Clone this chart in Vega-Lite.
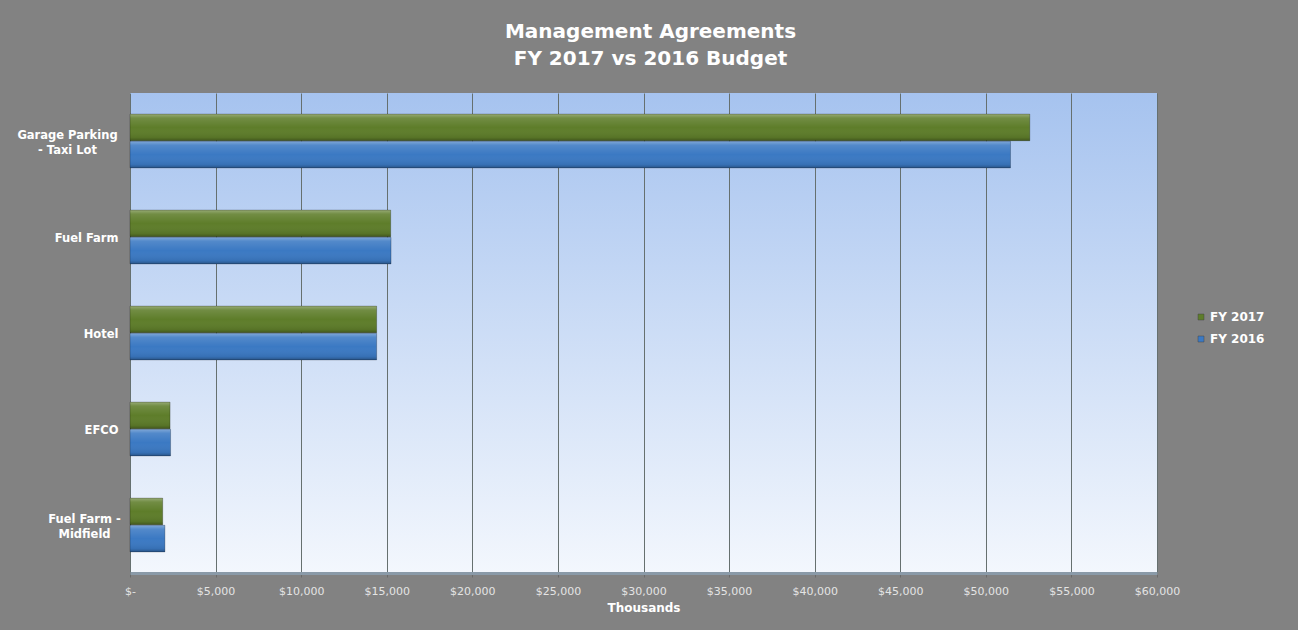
{
  "$schema": "https://vega.github.io/schema/vega-lite/v6.json",
  "width": 1027,
  "height": 480,
  "autosize": {"type": "none"},
  "padding": {"left": 130, "top": 93, "right": 141, "bottom": 57},
  "background": "#828282",
  "title": {
    "text": ["Management Agreements", "FY 2017 vs 2016 Budget"],
    "color": "#ffffff",
    "font": "DejaVu Sans",
    "fontSize": 20,
    "fontWeight": "bold",
    "lineHeight": 27,
    "offset": 24,
    "dx": 7,
    "anchor": "middle"
  },
  "data": {
    "values": [
      {"category": "Garage Parking - Taxi Lot", "series": "FY 2017", "value": 52570},
      {"category": "Garage Parking - Taxi Lot", "series": "FY 2016", "value": 51440},
      {"category": "Fuel Farm", "series": "FY 2017", "value": 15230},
      {"category": "Fuel Farm", "series": "FY 2016", "value": 15250},
      {"category": "Hotel", "series": "FY 2017", "value": 14410},
      {"category": "Hotel", "series": "FY 2016", "value": 14410},
      {"category": "EFCO", "series": "FY 2017", "value": 2340},
      {"category": "EFCO", "series": "FY 2016", "value": 2370},
      {"category": "Fuel Farm - Midfield", "series": "FY 2017", "value": 1910},
      {"category": "Fuel Farm - Midfield", "series": "FY 2016", "value": 2040}
    ]
  },
  "encoding": {
    "y": {
      "field": "category",
      "type": "nominal",
      "sort": ["Garage Parking - Taxi Lot", "Fuel Farm", "Hotel", "EFCO", "Fuel Farm - Midfield"],
      "scale": {"paddingInner": 0.44, "paddingOuter": 0.22},
      "axis": {
        "title": null,
        "domain": false,
        "ticks": false,
        "labelPadding": {"condition": [
          {"test": "datum.value == 'Garage Parking - Taxi Lot'", "value": 63},
          {"test": "datum.value == 'Fuel Farm - Midfield'", "value": 46}
        ], "value": 12},
        "labelAlign": {"condition": {"test": "indexof(['Garage Parking - Taxi Lot', 'Fuel Farm - Midfield'], datum.value) >= 0", "value": "center"}, "value": "right"},
        "labelOffset": {"condition": {"test": "indexof(['Garage Parking - Taxi Lot', 'Fuel Farm - Midfield'], datum.value) >= 0", "value": -5}, "value": 2},
        "labelColor": "#ffffff",
        "labelFont": "DejaVu Sans",
        "labelFontSize": 11.5,
        "labelFontWeight": "bold",
        "labelLineHeight": 15,
        "labelExpr": "datum.value == 'Garage Parking - Taxi Lot' ? ['Garage Parking', '- Taxi Lot'] : datum.value == 'Fuel Farm - Midfield' ? ['Fuel Farm -', 'Midfield'] : datum.value"
      }
    },
    "yOffset": {
      "field": "series",
      "type": "nominal",
      "sort": ["FY 2017", "FY 2016"],
      "scale": {"paddingInner": 0.02}
    },
    "x": {
      "field": "value",
      "type": "quantitative",
      "scale": {"domain": [0, 60000], "nice": false},
      "axis": {
        "title": "Thousands",
        "titleColor": "#ffffff",
        "titleFont": "DejaVu Sans",
        "titleFontSize": 12,
        "titleFontWeight": "bold",
        "titlePadding": 6,
        "values": [0, 5000, 10000, 15000, 20000, 25000, 30000, 35000, 40000, 45000, 50000, 55000, 60000],
        "labelExpr": "datum.value == 0 ? '$-' : '$' + format(datum.value, ',')",
        "labelFlush": false,
        "labelColor": "#e4e4e4",
        "labelFont": "DejaVu Sans",
        "labelFontSize": 11,
        "labelPadding": 8,
        "grid": true,
        "gridColor": "#66706f",
        "gridWidth": 1,
        "domain": true,
        "domainColor": "#8a9aa8",
        "domainWidth": 3,
        "tickColor": "#6a6a6a",
        "tickSize": 4
      }
    }
  },
  "layer": [
    {
      "mark": {"type": "bar"},
      "encoding": {
        "color": {
          "field": "series",
          "type": "nominal",
          "sort": ["FY 2017", "FY 2016"],
          "scale": {"domain": ["FY 2017", "FY 2016"], "range": ["#5e7d2a", "#3b79c3"]},
          "legend": {
            "title": null,
            "orient": "none",
            "legendX": 1065,
            "legendY": 218,
            "symbolType": "square",
            "symbolSize": 36,
            "symbolStrokeColor": "#444444",
            "symbolStrokeWidth": 0.5,
            "labelColor": "#ffffff",
            "labelFont": "DejaVu Sans",
            "labelFontSize": 12,
            "labelFontWeight": "bold",
            "labelOffset": 3,
            "rowPadding": 10
          }
        }
      }
    },
    {
      "mark": {
        "type": "bar",
        "stroke": "rgba(0,0,0,0.35)",
        "strokeWidth": 0.7,
        "fill": {
          "gradient": "linear",
          "x1": 0, "y1": 0, "x2": 0, "y2": 1,
          "stops": [
            {"offset": 0, "color": "rgba(255,255,255,0.35)"},
            {"offset": 0.15, "color": "rgba(255,255,255,0.12)"},
            {"offset": 0.5, "color": "rgba(255,255,255,0)"},
            {"offset": 0.88, "color": "rgba(0,0,0,0.08)"},
            {"offset": 1, "color": "rgba(0,0,0,0.3)"}
          ]
        }
      },
      "encoding": {}
    }
  ],
  "config": {
    "view": {
      "stroke": null,
      "fill": {
        "gradient": "linear",
        "x1": 0, "y1": 0, "x2": 0, "y2": 1,
        "stops": [
          {"offset": 0, "color": "#a6c3ef"},
          {"offset": 1, "color": "#f3f7fd"}
        ]
      }
    }
  }
}
